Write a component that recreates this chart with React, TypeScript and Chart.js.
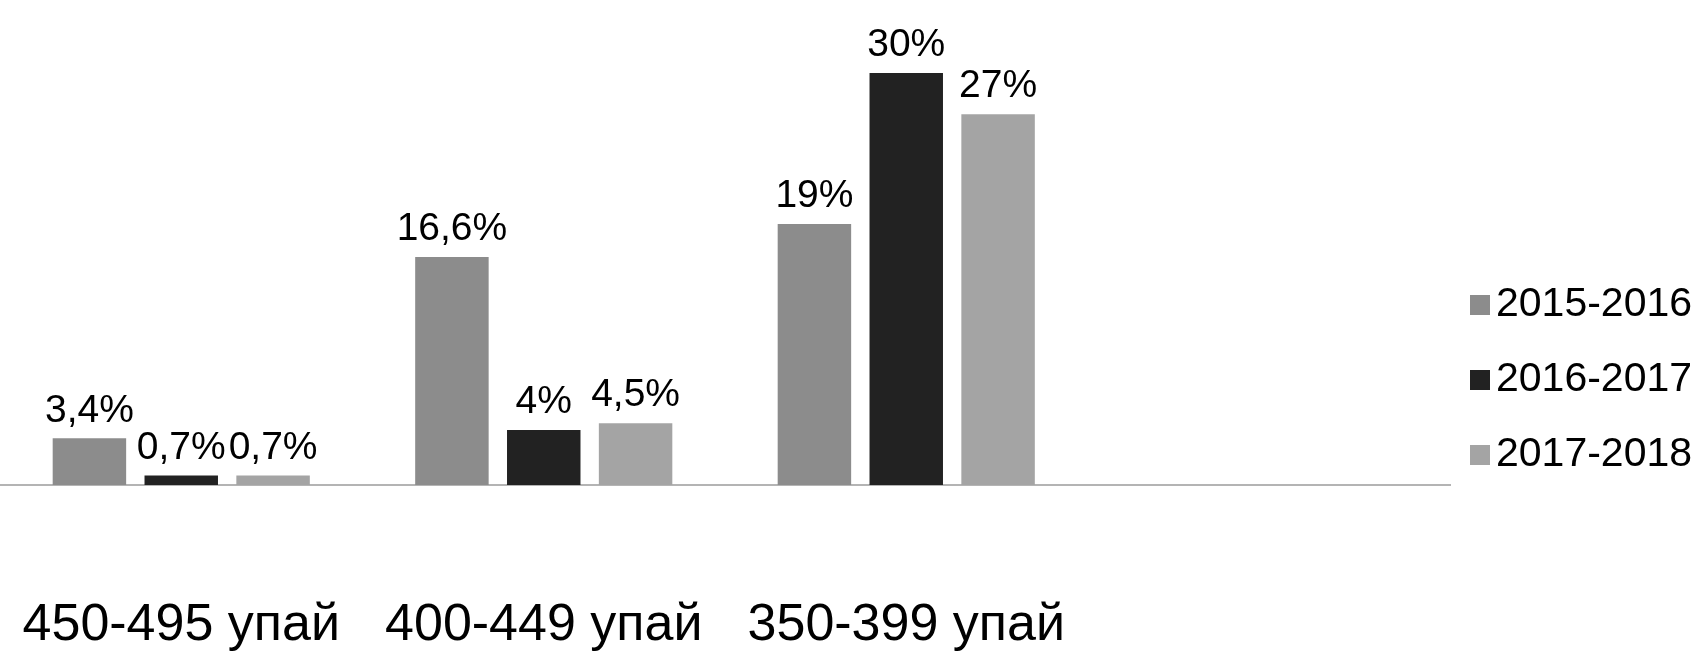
import React, { useEffect, useRef } from "react";
import { Chart, registerables } from "chart.js";

Chart.register(...registerables);

const categories = ["450-495 упай", "400-449 упай", "350-399 упай", ""];
const seriesNames = ["2015-2016", "2016-2017", "2017-2018"];
const values2015 = [3.4, 16.6, 19, null];
const values2016 = [0.7, 4, 30, null];
const values2017 = [0.7, 4.5, 27, null];
const seriesColors = ["#8c8c8c", "#222222", "#a4a4a4"];

const FONT = "'Liberation Sans', Arial, sans-serif";
const fmt = (v: number) => String(v).replace(".", ",") + "%";

const labelPlugin = {
  id: "valueLabels",
  afterDatasetsDraw(chart: any) {
    const ctx = chart.ctx;
    ctx.save();
    ctx.font = `39px ${FONT}`;
    ctx.fillStyle = "#000";
    ctx.textAlign = "center";
    ctx.textBaseline = "bottom";
    chart.data.datasets.forEach((ds: any, di: number) => {
      const meta = chart.getDatasetMeta(di);
      meta.data.forEach((el: any, i: number) => {
        const v = ds.data[i];
        if (v === null || v === undefined) return;
        ctx.fillText(fmt(v), el.x, el.y - 8);
      });
    });
    ctx.restore();
  },
};

// legend drawn to the right of the plot area, bottom-aligned with the axis
const sideLegend = {
  id: "sideLegend",
  afterDraw(chart: any) {
    const ctx = chart.ctx;
    const area = chart.chartArea;
    const ds = chart.data.datasets;
    const n = ds.length;
    const x0 = area.right + 20;
    ctx.save();
    ctx.font = `41px ${FONT}`;
    ctx.textAlign = "left";
    ctx.textBaseline = "middle";
    ds.forEach((d: any, i: number) => {
      const y = area.bottom - 30 - (n - 1 - i) * 75;
      ctx.fillStyle = d.backgroundColor;
      ctx.fillRect(x0, y - 10, 20, 20);
      ctx.fillStyle = "#000";
      ctx.fillText(d.label, x0 + 26, y);
    });
    ctx.restore();
  },
};

export default function App() {
  const ref = useRef<HTMLCanvasElement>(null);
  useEffect(() => {
    if (!ref.current) return;
    Chart.defaults.font.family = FONT;
    const data = [values2015, values2016, values2017];
    const chart = new Chart(ref.current, {
      type: "bar",
      data: {
        labels: categories,
        datasets: seriesNames.map((name, i) => ({
          label: name,
          data: data[i],
          backgroundColor: seriesColors[i],
          borderWidth: 0,
          categoryPercentage: 0.76,
          barPercentage: 0.8,
        })),
      },
      options: {
        animation: false,
        events: [],
        responsive: true,
        maintainAspectRatio: false,
        layout: { padding: { top: 73, left: 0, right: 247, bottom: 0 } },
        plugins: {
          tooltip: { enabled: false },
          legend: { display: false },
        },
        scales: {
          x: {
            grid: { display: false, drawTicks: false },
            border: { display: true, color: "#b4b4b4", width: 2, dash: [22, 8] },
            ticks: {
              color: "#000",
              font: { size: 52 },
              padding: 109,
              maxRotation: 0,
              autoSkip: false,
            },
            afterFit(scale: any) {
              scale.height = 183;
              scale.paddingLeft = 0;
              scale.paddingRight = 0;
            },
          },
          y: {
            display: false,
            min: 0,
            max: 30,
          },
        },
      },
      plugins: [labelPlugin, sideLegend],
    });
    return () => chart.destroy();
  }, []);
  return (
    <div style={{ position: "fixed", left: 0, top: 0, width: 1697, height: 668, background: "#fff" }}>
      <canvas ref={ref} />
    </div>
  );
}
